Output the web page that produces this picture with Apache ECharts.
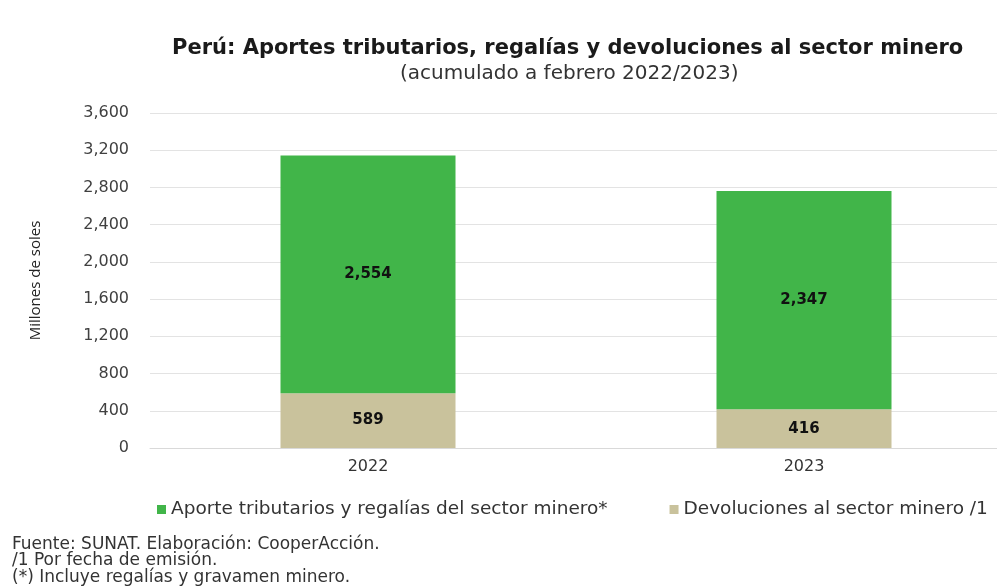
<!DOCTYPE html>
<html>
<head>
<meta charset="utf-8">
<script src="https://cdn.jsdelivr.net/npm/echarts@6/dist/echarts.min.js"></script>
<style>
  html, body { margin: 0; padding: 0; background: #ffffff; }
  #chart { width: 997px; height: 587px; }
</style>
</head>
<body>
<div id="chart"></div>
<script>
// Categories and values (millones de soles)
const years = ['2022', '2023'];
const aportes = [2554, 2347];      // Aporte tributarios y regalías del sector minero*
const devoluciones = [589, 416];   // Devoluciones al sector minero /1
const yTicks = { min: 0, max: 3600, interval: 400 };

const seriesNames = [
  'Aporte tributarios y regalías del sector minero*',
  'Devoluciones al sector minero /1'
];

const notes = [
  'Fuente: SUNAT. Elaboración: CooperAcción.',
  '/1 Por fecha de emisión.',
  '(*) Incluye regalías y gravamen minero.'
];

const fmt = v => v.toLocaleString('en-US');

const chart = echarts.init(document.getElementById('chart'));

const labelStyle = {
  show: true,
  position: 'inside',
  color: '#111',
  fontFamily: 'DejaVu Sans',
  fontWeight: 'bold',
  fontSize: 15,
  formatter: p => fmt(p.value)
};

chart.setOption({
  backgroundColor: '#ffffff',
  animation: false,
  title: [
    {
      text: 'Perú: Aportes tributarios, regalías y devoluciones al sector minero',
      left: 167,
      top: 33,
      textStyle: { fontFamily: 'DejaVu Sans', fontWeight: 'bold', fontSize: 21, color: '#1a1a1a' }
    },
    {
      text: '(acumulado a febrero 2022/2023)',
      left: 395,
      top: 59,
      textStyle: { fontFamily: 'DejaVu Sans', fontWeight: 'normal', fontSize: 20, color: '#333' }
    }
  ],
  legend: {
    data: seriesNames,
    left: 152,
    top: 495,
    itemWidth: 9,
    itemHeight: 9,
    itemGap: 62,
    icon: 'rect',
    textStyle: { fontFamily: 'DejaVu Sans', fontSize: 18.5, color: '#333' }
  },
  grid: { left: 150, width: 872, top: 113, bottom: 139, outerBoundsMode: 'none' },
  xAxis: {
    type: 'category',
    data: years,
    axisLine: { show: true, lineStyle: { color: '#d9d9d9' } },
    axisTick: { show: false },
    axisLabel: { fontFamily: 'DejaVu Sans', fontSize: 16, color: '#333', margin: 11 }
  },
  yAxis: {
    type: 'value',
    min: yTicks.min,
    max: yTicks.max,
    interval: yTicks.interval,
    name: 'Millones de soles',
    nameLocation: 'middle',
    nameRotate: 90,
    nameGap: 107,
    nameTextStyle: { fontFamily: 'Open Sans', fontSize: 15, color: '#222' },
    axisLine: { show: false },
    axisTick: { show: false },
    splitLine: { lineStyle: { color: '#e3e3e3' } },
    axisLabel: {
      fontFamily: 'DejaVu Sans',
      fontSize: 16,
      color: '#404040',
      margin: 21,
      formatter: v => fmt(v)
    }
  },
  series: [
    {
      name: seriesNames[1],
      type: 'bar',
      stack: 'total',
      barWidth: 175,
      data: devoluciones,
      itemStyle: { color: '#c9c29c' },
      label: labelStyle
    },
    {
      name: seriesNames[0],
      type: 'bar',
      stack: 'total',
      barWidth: 175,
      data: aportes,
      itemStyle: { color: '#41b549' },
      label: labelStyle
    }
  ],
  graphic: notes.map((t, i) => ({
    type: 'text',
    left: 12,
    top: 536 + i * 16.5,
    style: { text: t, fontFamily: 'DejaVu Sans', fontSize: 17, fill: '#333' }
  }))
});
</script>
</body>
</html>
